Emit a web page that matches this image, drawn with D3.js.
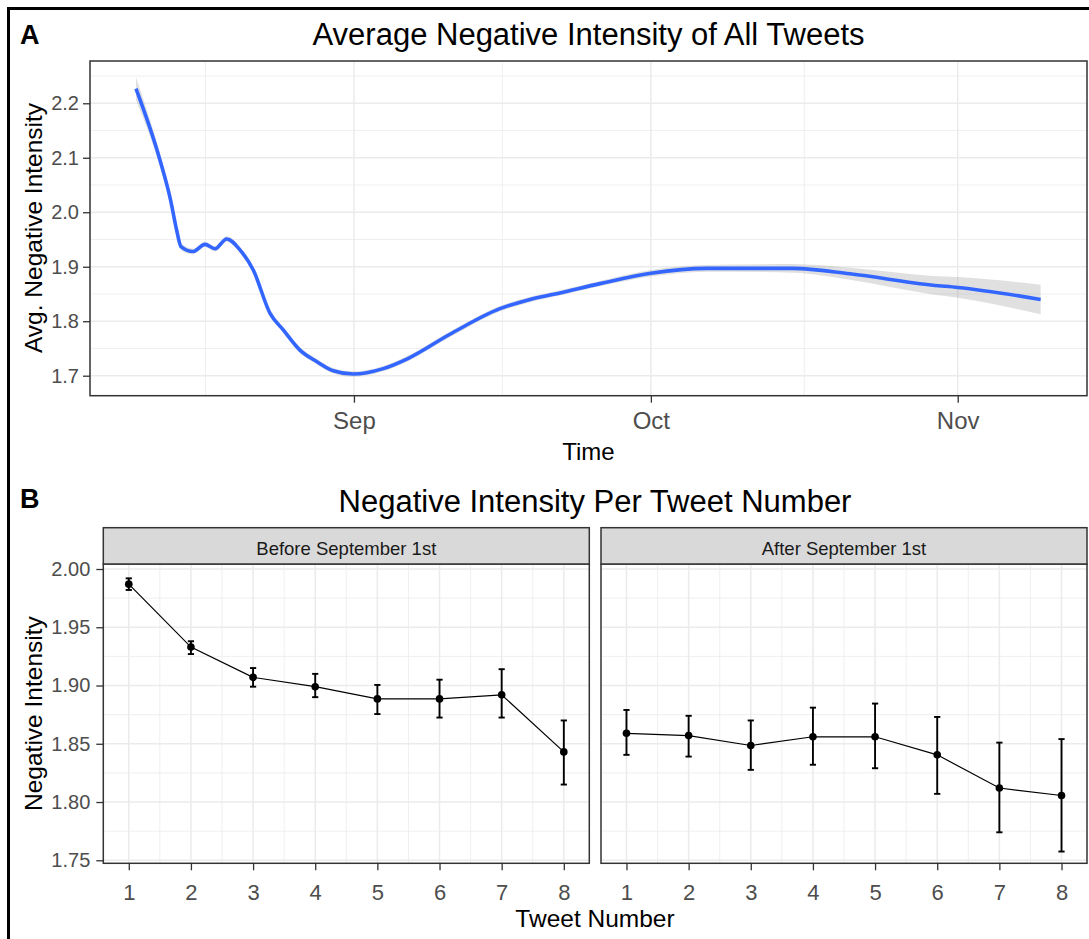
<!DOCTYPE html>
<html>
<head>
<meta charset="utf-8">
<script src="https://cdn.jsdelivr.net/npm/d3@7/dist/d3.min.js"></script>
<style>
body { margin: 0; background: #fff; }
svg { display: block; font-family: "Liberation Sans", Arial, sans-serif; }
</style>
</head>
<body>
<svg id="chart"></svg>
<script>
const width = 1089;
const height = 939;

// panel A: loess curve, days counted from Sep 1
const smoothDays = [-22.02, -19.6, -18.52, -17.91, -17.48, -16.24, -15.05, -14.04, -12.86, -11.52, -10.17,
    -8.49, -7.14, -5.46, -3.77, -2.09, -0.07, 2.96, 5.5, 9.7, 14.75, 17.8, 20.81, 24.85, 30.0, 35.63, 44.35,
    50.11, 58.5, 61.0, 69.38];
const smoothAvg = [2.227, 2.096, 2.022, 1.967, 1.937, 1.928, 1.941, 1.933, 1.951, 1.931, 1.894,
    1.815, 1.784, 1.747, 1.726, 1.709, 1.703, 1.713, 1.732, 1.776, 1.823, 1.840, 1.852, 1.869, 1.888, 1.897, 1.897,
    1.887, 1.866, 1.862, 1.840];
const smoothSe = [0.021, 0.012, 0.009, 0.008, 0.007, 0.005, 0.005, 0.005, 0.005, 0.005, 0.005,
    0.005, 0.005, 0.005, 0.005, 0.005, 0.005, 0.005, 0.005, 0.005, 0.005, 0.005, 0.005, 0.005, 0.006, 0.006, 0.008,
    0.011, 0.017, 0.019, 0.027];
const monthTicks = [new Date(2017, 8, 1), new Date(2017, 9, 1), new Date(2017, 10, 1)];
const monthMinor = [new Date(2017, 7, 17), new Date(2017, 8, 16), new Date(2017, 9, 16, 12)];
const avgTicks = [1.7, 1.8, 1.9, 2.0, 2.1, 2.2];
const avgMinor = [1.75, 1.85, 1.95, 2.05, 2.15, 2.25];

// panel B: mean and error bars per tweet number
const tweetNumbers = [1, 2, 3, 4, 5, 6, 7, 8];
const tweetMinor = [1.5, 2.5, 3.5, 4.5, 5.5, 6.5, 7.5];
const facetNames = ["Before September 1st", "After September 1st"];
const beforeMean = [1.987, 1.933, 1.907, 1.899, 1.8885, 1.8885, 1.892, 1.843];
const beforeLow = [1.982, 1.927, 1.899, 1.890, 1.8755, 1.8725, 1.8725, 1.815];
const beforeHigh = [1.992, 1.938, 1.915, 1.910, 1.9005, 1.905, 1.914, 1.870];
const afterMean = [1.859, 1.857, 1.8485, 1.856, 1.856, 1.8405, 1.812, 1.8056];
const afterLow = [1.8405, 1.839, 1.8276, 1.832, 1.829, 1.807, 1.774, 1.7575];
const afterHigh = [1.879, 1.874, 1.870, 1.881, 1.8845, 1.873, 1.851, 1.854];
const intensityTicks = [1.75, 1.80, 1.85, 1.90, 1.95, 2.00];
const intensityMinor = [1.775, 1.825, 1.875, 1.925, 1.975];

const svg = d3.select('#chart').attr('width', width).attr('height', height);
svg.append('rect').attr('width', width).attr('height', height).attr('fill', '#fff');
svg.append('rect')
    .attr('x', 8.5).attr('y', 8.5).attr('width', 1200).attr('height', 1200)
    .attr('fill', 'none').attr('stroke', '#000').attr('stroke-width', 3);

const gridColor = '#ebebeb';
const darkLine = '#333333';
const tickText = '#4d4d4d';

function styleAxis(g, fontSize) {
    g.select('.domain').remove();
    g.selectAll('.tick line').attr('stroke', darkLine).attr('stroke-width', 1.3);
    g.selectAll('.tick text').attr('fill', tickText).style('font-size', fontSize + 'px');
}

function drawGrid(g, x, y, xMajor, xMinor, yMajor, yMinor) {
    const [x0, x1] = x.range();
    const [y1, y0] = y.range();
    g.append('rect').attr('x', x0).attr('y', y0).attr('width', x1 - x0).attr('height', y1 - y0).attr('fill', '#fff');
    g.selectAll('.vminor').data(xMinor).enter().append('line')
        .attr('x1', d => x(d)).attr('x2', d => x(d)).attr('y1', y0).attr('y2', y1)
        .attr('stroke', gridColor).attr('stroke-width', 0.8);
    g.selectAll('.hminor').data(yMinor).enter().append('line')
        .attr('x1', x0).attr('x2', x1).attr('y1', d => y(d)).attr('y2', d => y(d))
        .attr('stroke', gridColor).attr('stroke-width', 0.8);
    g.selectAll('.vmajor').data(xMajor).enter().append('line')
        .attr('x1', d => x(d)).attr('x2', d => x(d)).attr('y1', y0).attr('y2', y1)
        .attr('stroke', gridColor).attr('stroke-width', 1.5);
    g.selectAll('.hmajor').data(yMajor).enter().append('line')
        .attr('x1', x0).attr('x2', x1).attr('y1', d => y(d)).attr('y2', d => y(d))
        .attr('stroke', gridColor).attr('stroke-width', 1.5);
}

function drawBorder(g, x, y) {
    const [x0, x1] = x.range();
    const [y1, y0] = y.range();
    g.append('rect').attr('x', x0).attr('y', y0).attr('width', x1 - x0).attr('height', y1 - y0)
        .attr('fill', 'none').attr('stroke', darkLine).attr('stroke-width', 1.5);
}

function drawTop() {
    const g = svg.append('g');
    const x = d3.scaleTime()
        .domain([new Date(2017, 7, 5, 8), new Date(2017, 10, 14, 1, 30)])
        .range([90, 1087]);
    const y = d3.scaleLinear().domain([1.6633, 2.2776]).range([395.7, 61]);

    drawGrid(g, x, y, monthTicks, monthMinor, avgTicks, avgMinor);

    const base = new Date(2017, 8, 1).getTime();
    const rows = smoothDays.map((d, i) => ({
        date: new Date(base + d * 864e5),
        avg: smoothAvg[i],
        se: smoothSe[i]
    }));

    const area = d3.area()
        .x(d => x(d.date))
        .y0(d => y(d.avg - d.se))
        .y1(d => y(d.avg + d.se))
        .curve(d3.curveMonotoneX);
    g.append('path').datum(rows).attr('d', area)
        .attr('fill', '#999999').attr('fill-opacity', 0.3);

    const line = d3.line().x(d => x(d.date)).y(d => y(d.avg)).curve(d3.curveMonotoneX);
    g.append('path').datum(rows).attr('d', line)
        .attr('fill', 'none').attr('stroke', '#3366FF').attr('stroke-width', 3.6);

    drawBorder(g, x, y);

    g.append('g').attr('transform', 'translate(90,0)')
        .call(d3.axisLeft(y).tickValues(avgTicks).tickFormat(d3.format('.1f')).tickSize(7).tickPadding(4))
        .call(a => styleAxis(a, 20));
    g.append('g').attr('transform', 'translate(0,395.7)')
        .call(d3.axisBottom(x).tickValues(monthTicks).tickFormat(d3.timeFormat('%b')).tickSize(7).tickPadding(9))
        .call(a => styleAxis(a, 24));

    svg.append('text').attr('x', 20).attr('y', 44).text('A')
        .style('font-size', '27px').style('font-weight', 'bold');
    svg.append('text').attr('x', 588.5).attr('y', 45).attr('text-anchor', 'middle')
        .text('Average Negative Intensity of All Tweets').style('font-size', '31px');
    svg.append('text').attr('x', 588.5).attr('y', 460).attr('text-anchor', 'middle')
        .text('Time').style('font-size', '24px');
    svg.append('text').attr('transform', 'translate(42,228) rotate(-90)').attr('text-anchor', 'middle')
        .text('Avg. Negative Intensity').style('font-size', '24.5px');
}

function drawBottom() {
    const panels = [
        { name: facetNames[0], left: 103.3, mean: beforeMean, low: beforeLow, high: beforeHigh },
        { name: facetNames[1], left: 601, mean: afterMean, low: afterLow, high: afterHigh }
    ];
    const panelWidth = 486;
    const stripTop = 527.7;
    const y = d3.scaleLinear().domain([1.7474, 2.0043]).range([863.3, 564]);

    panels.forEach((p, k) => {
        const g = svg.append('g');
        const x = d3.scaleLinear().domain([0.59, 8.41]).range([p.left, p.left + panelWidth]);
        drawGrid(g, x, y, tweetNumbers, tweetMinor, intensityTicks, intensityMinor);

        const rows = tweetNumbers.map((n, i) => ({ n: n, mean: p.mean[i], low: p.low[i], high: p.high[i] }));

        g.append('path').datum(rows)
            .attr('d', d3.line().x(d => x(d.n)).y(d => y(d.mean)))
            .attr('fill', 'none').attr('stroke', '#000').attr('stroke-width', 1.2);

        const cap = (x(1.05) - x(0.95)) / 2;
        const bars = g.selectAll('.err').data(rows).enter().append('g').attr('class', 'err')
            .attr('stroke', '#000').attr('stroke-width', 1.9);
        bars.append('line').attr('x1', d => x(d.n)).attr('x2', d => x(d.n))
            .attr('y1', d => y(d.low)).attr('y2', d => y(d.high));
        bars.append('line').attr('x1', d => x(d.n) - cap).attr('x2', d => x(d.n) + cap)
            .attr('y1', d => y(d.low)).attr('y2', d => y(d.low));
        bars.append('line').attr('x1', d => x(d.n) - cap).attr('x2', d => x(d.n) + cap)
            .attr('y1', d => y(d.high)).attr('y2', d => y(d.high));

        g.selectAll('.pt').data(rows).enter().append('circle')
            .attr('cx', d => x(d.n)).attr('cy', d => y(d.mean)).attr('r', 3.8).attr('fill', '#000');

        drawBorder(g, x, y);

        g.append('rect').attr('x', p.left).attr('y', stripTop).attr('width', panelWidth).attr('height', 564 - stripTop)
            .attr('fill', '#d9d9d9').attr('stroke', darkLine).attr('stroke-width', 1.5);
        g.append('text').attr('x', p.left + panelWidth / 2).attr('y', 554.5).attr('text-anchor', 'middle')
            .text(p.name).attr('fill', '#1a1a1a').style('font-size', '18.5px');

        g.append('g').attr('transform', 'translate(0,863.3)')
            .call(d3.axisBottom(x).tickValues(tweetNumbers).tickFormat(d3.format('d')).tickSize(7).tickPadding(14))
            .call(a => styleAxis(a, 22));

        if (k === 0) {
            g.append('g').attr('transform', 'translate(' + p.left + ',0)')
                .call(d3.axisLeft(y).tickValues(intensityTicks).tickFormat(d3.format('.2f')).tickSize(7).tickPadding(6))
                .call(a => styleAxis(a, 20));
        }
    });

    svg.append('text').attr('x', 20).attr('y', 508).text('B')
        .style('font-size', '27px').style('font-weight', 'bold');
    svg.append('text').attr('x', 595).attr('y', 512).attr('text-anchor', 'middle')
        .text('Negative Intensity Per Tweet Number').style('font-size', '31px');
    svg.append('text').attr('x', 595).attr('y', 927).attr('text-anchor', 'middle')
        .text('Tweet Number').style('font-size', '24.5px');
    svg.append('text').attr('transform', 'translate(42,713.6) rotate(-90)').attr('text-anchor', 'middle')
        .text('Negative Intensity').style('font-size', '24.5px');
}

drawTop();
drawBottom();
</script>
</body>
</html>
